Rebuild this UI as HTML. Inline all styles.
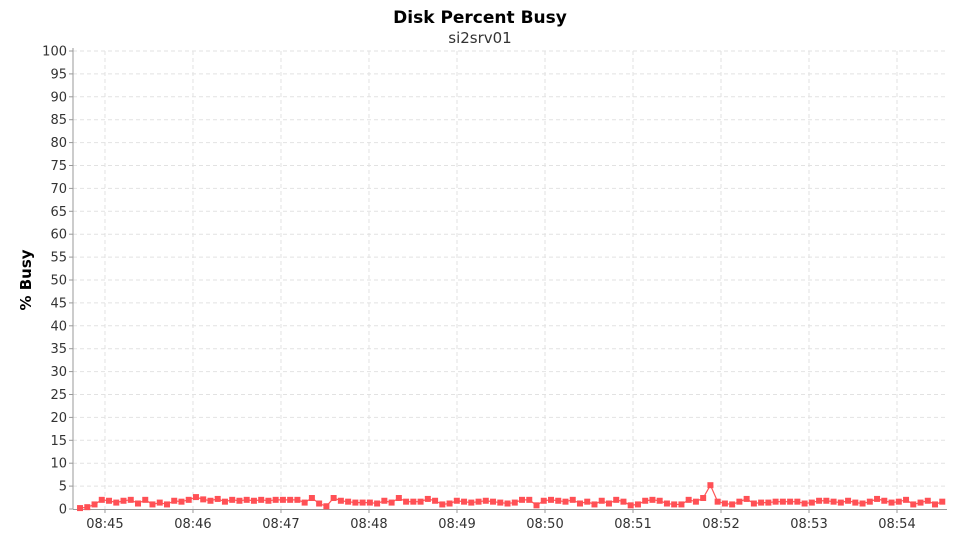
<!DOCTYPE html>
<html><head><meta charset="utf-8"><style>
body{margin:0;background:#fff;font-family:"Liberation Sans","DejaVu Sans",sans-serif;}
svg text{font-family:"DejaVu Sans","Liberation Sans",sans-serif;}
</style></head><body>
<svg width="960" height="540">
<defs><clipPath id="pc"><rect x="73" y="48" width="874" height="464"/></clipPath></defs>
<text x="480" y="23" text-anchor="middle" font-size="17" font-weight="bold" fill="#000">Disk Percent Busy</text>
<text x="480" y="43" text-anchor="middle" font-size="15" fill="#333">si2srv01</text>
<text transform="translate(31,280) rotate(-90)" text-anchor="middle" font-size="15" font-weight="bold" fill="#000">% Busy</text>
<g id="grid"></g><g id="axes"></g><g id="series" clip-path="url(#pc)"></g>
</svg>
<script>
const yTicks=[0,5,10,15,20,25,30,35,40,45,50,55,60,65,70,75,80,85,90,95,100];
const xTickLabels=["08:45","08:46","08:47","08:48","08:49","08:50","08:51","08:52","08:53","08:54"];
const xTickSecs=[60,120,180,240,300,360,420,480,540,600];
const startSec=43;
const stepSec=4.94;
const busyValues=[0.2,0.4,1,2,1.8,1.4,1.8,2,1.2,2,
1,1.4,1,1.8,1.6,2,2.6,2.1,1.8,2.2,
1.6,2,1.8,2,1.8,2,1.8,2,2,2,
2,1.4,2.4,1.2,0.6,2.4,1.8,1.6,1.4,1.4,
1.4,1.2,1.8,1.4,2.4,1.6,1.6,1.6,2.2,1.8,
1,1.2,1.8,1.6,1.4,1.6,1.8,1.6,1.4,1.2,
1.4,2,2,0.8,1.8,2,1.8,1.6,2,1.2,
1.6,1,1.8,1.2,2,1.6,0.8,1,1.8,2,
1.8,1.2,1,1,2,1.6,2.4,5.2,1.6,1.2,
1,1.6,2.2,1.2,1.4,1.4,1.6,1.6,1.6,1.6,
1.2,1.4,1.8,1.8,1.6,1.4,1.8,1.4,1.2,1.6,
2.2,1.8,1.4,1.6,2,1,1.4,1.8,1,1.6];
const NS="http://www.w3.org/2000/svg";
const L=73,R=946,T=51,B=509;
const xMin=38.2,xMax=(R-105)/88*60+60;
function xs(s){return L+(s-xMin)/(xMax-xMin)*(R-L);}
function ys(v){return B-v/100*(B-T);}
function mk(t,a,p){const e=document.createElementNS(NS,t);for(const k in a)e.setAttribute(k,a[k]);p.appendChild(e);return e;}
const g=document.getElementById('grid'),ax=document.getElementById('axes'),se=document.getElementById('series');
yTicks.forEach(v=>{
 const y=ys(v);
 if(v>0){const l=mk('line',{x1:L,x2:R,y1:y,y2:y,stroke:'#e2e2e2','stroke-dasharray':'4,3'},g);
 
 }
 mk('line',{x1:L-4,x2:L,y1:y,y2:y,stroke:'#999'},ax);
 const t=mk('text',{x:L-6,y:y+4.5,'text-anchor':'end','font-size':13,fill:'#333'},ax);
 t.textContent=v;
 
 
});
xTickSecs.forEach((s,i)=>{
 const x=xs(s);
 const l=mk('line',{x1:x,x2:x,y1:T,y2:B,stroke:'#e2e2e2','stroke-dasharray':'4,3'},g);
 
 
 mk('line',{x1:x,x2:x,y1:B,y2:B+4,stroke:'#999'},ax);
 const t=mk('text',{x:x,y:B+19,'text-anchor':'middle','font-size':13,fill:'#333'},ax);
 t.textContent=xTickLabels[i];
 
 
});
const ya=mk('line',{x1:L,x2:L,y1:T-3,y2:B,stroke:'#999'},ax);


const xa=mk('line',{x1:L,x2:R+1,y1:B+0.5,y2:B+0.5,stroke:'#999'},ax);


const pts=busyValues.map((v,i)=>[xs(startSec+i*stepSec),ys(v)]);
const pl=mk('polyline',{points:pts.map(p=>p.join(',')).join(' '),fill:'none',stroke:'#ff5555','stroke-width':1.2},se);


pts.forEach(p=>{
 const r=mk('rect',{x:p[0]-3,y:p[1]-3,width:6,height:6,fill:'#ff5055'},se);
 
 
});
</script>
</body></html>
